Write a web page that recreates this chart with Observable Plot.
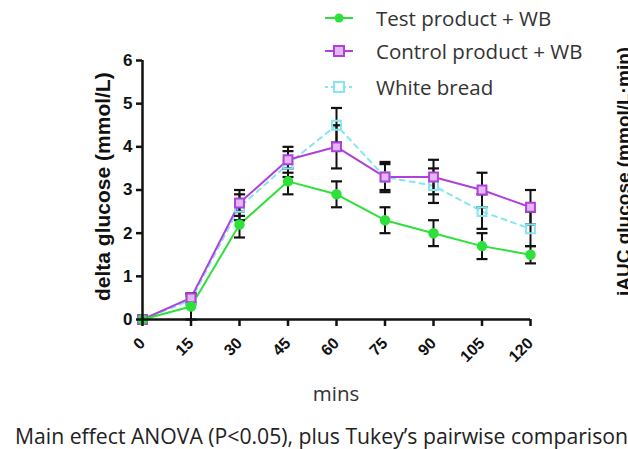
<!DOCTYPE html>
<html>
<head>
<meta charset="utf-8">
<script src="https://cdn.jsdelivr.net/npm/d3@7"></script>
<script src="https://cdn.jsdelivr.net/npm/@observablehq/plot@0.6"></script>
<style>
  html, body { margin: 0; padding: 0; background: #fff; }
  #wrap { position: relative; width: 628px; height: 449px; overflow: hidden; background: #fff; }
  #chart svg { display: block; }
  .legend { position: absolute; left: 323px; top: 0; font-family: "Open Sans", sans-serif; font-size: 20.5px; color: #333; }
  .legend .row { position: absolute; left: 0; height: 26px; display: flex; align-items: center; white-space: nowrap; }
  .legend svg { margin-right: 21px; }
  #mins { position: absolute; left: 236px; width: 200px; top: 379px; line-height: 28px; text-align: center; font-family: "Open Sans", sans-serif; font-size: 20.5px; color: #333; }
  #ylab { position: absolute; left: 91px; top: 301px; line-height: 24px; transform-origin: 0 0; transform: rotate(-90deg); white-space: nowrap; font-family: "Liberation Sans", Arial, sans-serif; font-weight: bold; font-size: 21px; color: #111; }
  #caption { position: absolute; left: 15px; top: 422px; line-height: 28px; white-space: nowrap; font-family: "Open Sans", sans-serif; font-size: 21.2px; color: #222; }
  #side { position: absolute; left: 612px; top: 296px; line-height: 24px; transform-origin: 0 0; transform: rotate(-90deg); white-space: nowrap; font-family: "Liberation Sans", Arial, sans-serif; font-weight: bold; font-size: 19px; color: #111; }
</style>
</head>
<body>
<div id="wrap">
  <div id="chart"></div>
  <div class="legend" id="legend"></div>
  <div id="ylab">delta glucose (mmol/L)</div>
  <div id="mins">mins</div>
  <div id="caption">Main effect ANOVA (P&lt;0.05), plus Tukey’s pairwise comparison</div>
  <div id="side">iAUC glucose (mmol/L·min)</div>
</div>
<script>
// ---- data ----
const minutes = [0, 15, 30, 45, 60, 75, 90, 105, 120];
const seriesNames = ["Test product + WB", "Control product + WB", "White bread"];
const testMean = [0, 0.3, 2.2, 3.2, 2.9, 2.3, 2.0, 1.7, 1.5];
const testErr  = [0, 0.3, 0.3, 0.3, 0.3, 0.3, 0.3, 0.3, 0.2];
const controlMean = [0, 0.5, 2.7, 3.7, 4.0, 3.3, 3.3, 3.0, 2.6];
const controlErr  = [0, 0.1, 0.3, 0.3, 0.5, 0.35, 0.4, 0.4, 0.4];
const wbMean = [0, 0.45, 2.6, 3.6, 4.5, 3.3, 3.1, 2.5, 2.1];
const wbErr  = [0, 0.1, 0.3, 0.3, 0.4, 0.3, 0.4, 0.4, 0.4];
const yTicks = [0, 1, 2, 3, 4, 5, 6];
const xTicks = minutes;

// ---- styles ----
const colors = {"Test product + WB": "#2ee03a", "Control product + WB": "#b040dc", "White bread": "#86e6f0"};
const dashes = {"Test product + WB": null, "Control product + WB": null, "White bread": "5,5"};

function rows(name, means, errs) {
  return minutes.map((m, i) => ({series: name, min: m, y: means[i], lo: means[i] - errs[i], hi: means[i] + errs[i]}));
}
const tables = {
  "Test product + WB": rows(seriesNames[0], testMean, testErr),
  "Control product + WB": rows(seriesNames[1], controlMean, controlErr),
  "White bread": rows(seriesNames[2], wbMean, wbErr)
};
const all = [].concat(tables["White bread"], tables["Control product + WB"], tables["Test product + WB"]);

const cap = { draw(ctx, size) { const w = 5.5; ctx.moveTo(-w, 0); ctx.lineTo(w, 0); } };

const marks = [];
for (const name of ["White bread", "Control product + WB", "Test product + WB"]) {
  marks.push(Plot.line(tables[name], {x: "min", y: "y", stroke: colors[name], strokeWidth: 2, strokeDasharray: dashes[name]}));
}
const errRows = all.filter(d => d.hi > d.lo);
marks.push(Plot.ruleX(errRows, {x: "min", y1: "lo", y2: "hi", stroke: "#111", strokeWidth: 2}));
marks.push(Plot.dot(errRows, {x: "min", y: "lo", symbol: cap, stroke: "#111", strokeWidth: 2.2}));
marks.push(Plot.dot(errRows, {x: "min", y: "hi", symbol: cap, stroke: "#111", strokeWidth: 2.2}));
marks.push(Plot.dot(tables["White bread"], {x: "min", y: "y", symbol: "square", r: 5, stroke: colors["White bread"], strokeWidth: 2, fill: "none"}));
marks.push(Plot.dot(tables["Control product + WB"], {x: "min", y: "y", symbol: "square", r: 5, stroke: colors["Control product + WB"], strokeWidth: 2, fill: "#e2b8f2"}));
marks.push(Plot.dot(tables["Test product + WB"], {x: "min", y: "y", symbol: "circle", r: 4.5, fill: colors["Test product + WB"], stroke: colors["Test product + WB"]}));
marks.push(Plot.ruleX([d3.min(xTicks)], {y1: d3.min(yTicks), y2: d3.max(yTicks), stroke: "#111", strokeWidth: 2.5}));
marks.push(Plot.ruleY([d3.min(yTicks)], {x1: d3.min(xTicks), x2: d3.max(xTicks), stroke: "#111", strokeWidth: 2.5}));
marks.push(Plot.axisY({ticks: yTicks, tickFormat: "d", tickSize: 6, tickPadding: 4, strokeWidth: 2.5, stroke: "#111",
  label: null, fontSize: 17, fontWeight: "bold", fontFamily: "Liberation Sans, Arial, sans-serif", fill: "#111"}));
marks.push(Plot.axisX({ticks: xTicks, tickFormat: "d", tickSize: 7, tickPadding: 14, strokeWidth: 2.5, stroke: "#111", tickRotate: -45,
  label: null, fontSize: 16, fontWeight: "bold", fontFamily: "Liberation Sans, Arial, sans-serif", fill: "#111"}));

const chart = Plot.plot({
  width: 628,
  height: 449,
  marginLeft: 142,
  marginRight: 98,
  marginTop: 60,
  marginBottom: 130,
  x: {domain: [d3.min(xTicks), d3.max(xTicks)]},
  y: {domain: [d3.min(yTicks), d3.max(yTicks)]},
  style: {background: "transparent", color: "#111", fontFamily: "Liberation Sans, Arial, sans-serif"},
  marks
});
document.getElementById("chart").appendChild(chart);

// legend (HTML overlay)
const legend = document.getElementById("legend");
const tops = [5, 38, 74];
seriesNames.forEach((name, i) => {
  const row = document.createElement("div");
  row.className = "row";
  row.style.top = tops[i] + "px";
  const ns = "http://www.w3.org/2000/svg";
  const s = document.createElementNS(ns, "svg");
  s.setAttribute("width", 32); s.setAttribute("height", 16);
  const ln = document.createElementNS(ns, "line");
  ln.setAttribute("x1", 2); ln.setAttribute("x2", 30); ln.setAttribute("y1", 8); ln.setAttribute("y2", 8);
  ln.setAttribute("stroke", colors[name]); ln.setAttribute("stroke-width", 2);
  if (dashes[name]) ln.setAttribute("stroke-dasharray", "3,3");
  s.appendChild(ln);
  let mk;
  if (i === 0) {
    mk = document.createElementNS(ns, "circle");
    mk.setAttribute("cx", 16); mk.setAttribute("cy", 8); mk.setAttribute("r", 4.5);
    mk.setAttribute("fill", colors[name]);
  } else {
    mk = document.createElementNS(ns, "rect");
    mk.setAttribute("x", 11); mk.setAttribute("y", 3); mk.setAttribute("width", 10); mk.setAttribute("height", 10);
    mk.setAttribute("fill", i === 1 ? "#e2b8f2" : "#fff");
    mk.setAttribute("stroke", colors[name]); mk.setAttribute("stroke-width", 2);
  }
  s.appendChild(mk);
  row.appendChild(s);
  const t = document.createElement("span");
  t.textContent = name;
  row.appendChild(t);
  legend.appendChild(row);
});
</script>
</body>
</html>
